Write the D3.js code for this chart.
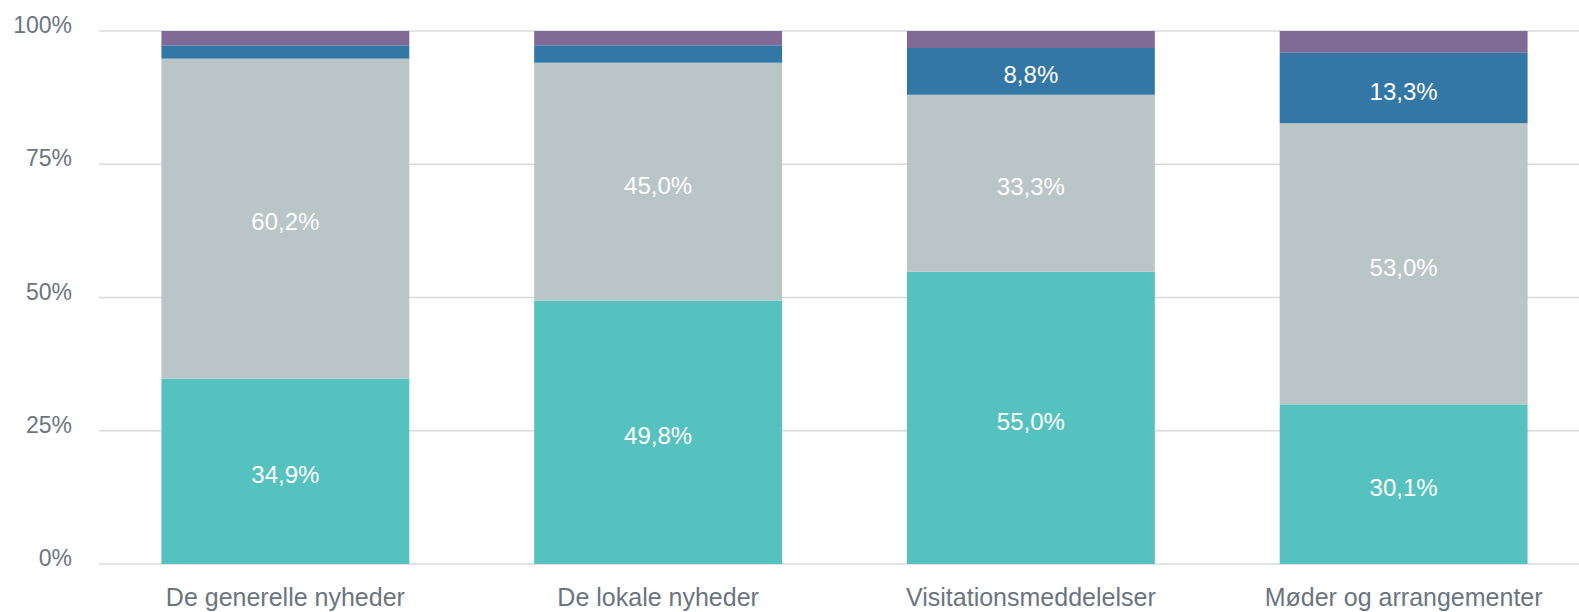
<!DOCTYPE html>
<html>
<head>
<meta charset="utf-8">
<script src="https://cdn.jsdelivr.net/npm/d3@7"></script>
<style>
  html, body { margin: 0; padding: 0; background: #fff; }
  svg { display: block; }
  text { font-family: "Liberation Sans", Arial, sans-serif; }
</style>
</head>
<body>
<svg id="chart" width="1579" height="612"></svg>
<script>
const categories = ["De generelle nyheder", "De lokale nyheder", "Visitationsmeddelelser", "Møder og arrangementer"];
const seriesKeys = ["s1", "s2", "s3", "s4"];
const s1 = [34.9, 49.8, 55.0, 30.1];
const s2 = [60.2, 45.0, 33.3, 53.0];
const s3 = [2.5, 3.3, 8.8, 13.3];
const s4 = [2.7, 2.7, 3.2, 4.1];
const colors = ["#56c2c0", "#bac5c7", "#3277a5", "#806a96"];
const yTicks = [0, 0.25, 0.5, 0.75, 1];
const yTickLabels = ["0%", "25%", "50%", "75%", "100%"];

const rows = categories.map((c, i) => ({ cat: c, s1: s1[i], s2: s2[i], s3: s3[i], s4: s4[i] }));
const stack = d3.stack().keys(seriesKeys).offset(d3.stackOffsetExpand);
const stacked = stack(rows);

const svg = d3.select("#chart");
const x = d3.scaleBand().domain(categories).range([99, 1590]).paddingInner(0.335).paddingOuter(0.1675);
const y = d3.scaleLinear().domain([0, 1]).range([564, 31]);

// gridlines
svg.append("g").selectAll("line").data(yTicks).join("line")
  .attr("x1", 99).attr("x2", 1579)
  .attr("y1", d => y(d)).attr("y2", d => y(d))
  .attr("stroke", "#dadada").attr("stroke-width", 1.5);

// y labels
svg.append("g").selectAll("text").data(yTicks).join("text")
  .attr("x", 72).attr("y", d => y(d) + 2)
  .attr("text-anchor", "end")
  .attr("font-size", 23)
  .attr("fill", "#6b7580")
  .text((d, i) => yTickLabels[i]);

// bars
const layers = svg.append("g").selectAll("g").data(stacked).join("g")
  .attr("fill", (d, i) => colors[i]);
layers.selectAll("rect").data(d => d.map(v => ({ v, cat: v.data.cat }))).join("rect")
  .attr("x", d => x(d.cat))
  .attr("width", x.bandwidth())
  .attr("y", d => y(d.v[1]))
  .attr("height", d => y(d.v[0]) - y(d.v[1]));

// value labels
const fmt = v => v.toFixed(1).replace(".", ",") + "%";
stacked.forEach((layer, li) => {
  const raw = [s1, s2, s3, s4][li];
  svg.append("g").selectAll("text").data(layer).join("text")
    .filter((d, i) => raw[i] >= 5)
    .attr("x", d => x(d.data.cat) + x.bandwidth() / 2)
    .attr("y", d => (y(d[0]) + y(d[1])) / 2 + 3.5)
    .attr("dy", "0.35em")
    .attr("text-anchor", "middle")
    .attr("font-size", 24)
    .attr("fill", "#ffffff")
    .text(d => fmt(raw[layer.indexOf(d)]));
});

// category labels
svg.append("g").selectAll("text").data(categories).join("text")
  .attr("x", d => x(d) + x.bandwidth() / 2)
  .attr("y", 606)
  .attr("text-anchor", "middle")
  .attr("font-size", 25)
  .attr("fill", "#6b7580")
  .text(d => d);
</script>
</body>
</html>
